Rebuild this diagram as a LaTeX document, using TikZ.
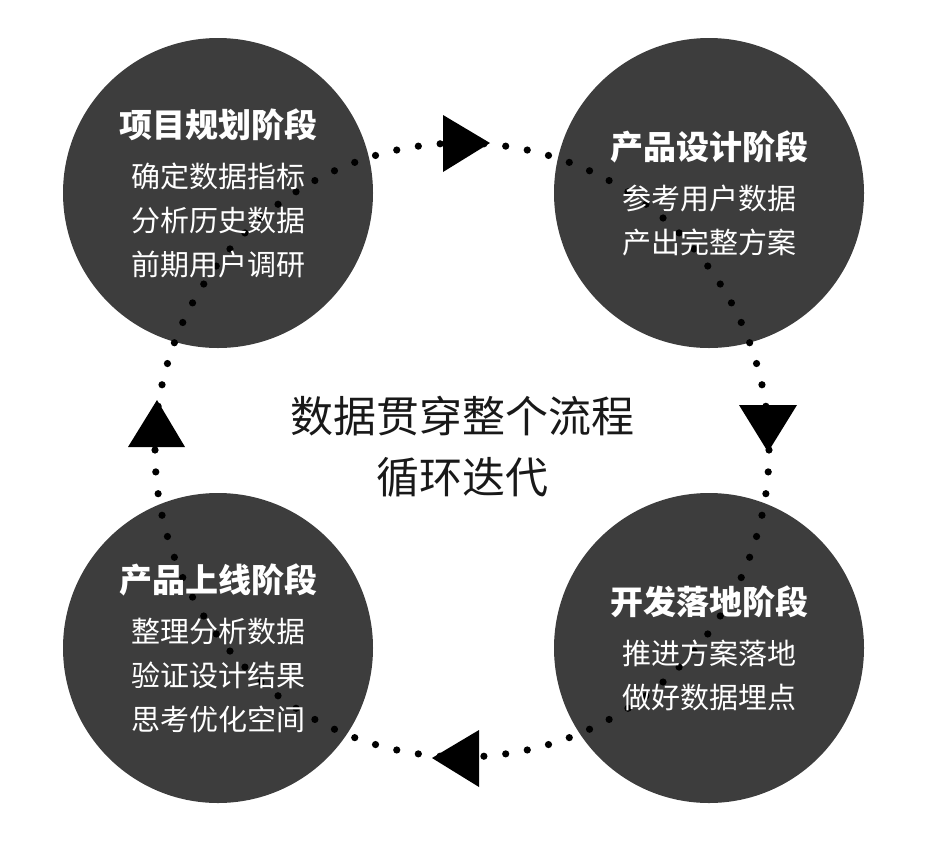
\documentclass[tikz,border=0pt]{standalone}
\usepackage{fontspec}
\setmainfont{Noto Sans CJK SC}
\usepackage{xcolor}
\usetikzlibrary{backgrounds}
\pgfdeclarelayer{ring}
\pgfsetlayers{background,ring,main}
\definecolor{darkdisc}{HTML}{3D3D3D}
\newcommand{\stagetitle}[1]{{\fontsize{33}{44}\selectfont\bfseries #1}}

\begin{document}
\begin{tikzpicture}[
    x=1pt, y=-1pt,
    stage/.style={
      circle, minimum size=310pt, inner sep=0pt,
      text=white, align=center, font=\fontsize{29}{44}\selectfont
    },
    stagefill/.style={fill=darkdisc},
    ringdot/.style={fill=black},
    ringtip/.style={fill=black},
    motto/.style={
      align=center, text=black!90, font=\fontsize{43}{61}\selectfont
    }
  ]
  \useasboundingbox (0,0) rectangle (934,844);

  % --- the four stages ---
  \node[stage] (plan) at (218,193)
    {\stagetitle{项目规划阶段}\\[6pt]确定数据指标\\分析历史数据\\前期用户调研};
  \node[stage] (design) at (709,193)
    {\stagetitle{产品设计阶段}\\[6pt]参考用户数据\\产出完整方案};
  \node[stage] (build) at (709,648)
    {\stagetitle{开发落地阶段}\\[6pt]推进方案落地\\做好数据埋点};
  \node[stage] (launch) at (218,648)
    {\stagetitle{产品上线阶段}\\[6pt]整理分析数据\\验证设计结果\\思考优化空间};

  \begin{scope}[on background layer]
    \foreach \s in {plan,design,build,launch}
      \fill[stagefill] (\s) circle (155);
  \end{scope}

  % --- centre text and dotted ring ---
  \node[motto] (motto) at (462,447) {数据贯穿整个流程\\循环迭代};
  \coordinate (hub) at (462,450);

  \begin{pgfonlayer}{ring}
    \foreach \k in {0,...,87}
      \fill[ringdot] ([shift={(90+\k*4.0909:307)}]hub) circle (3.6);
    % arrow tips on the ring
    \fill[ringtip] (443,115) -- (490,143) -- (443,172) -- cycle;
    \fill[ringtip] (739,405) -- (797,405) -- (768,452) -- cycle;
    \fill[ringtip] (479,730) -- (479,787) -- (432,758) -- cycle;
    \fill[ringtip] (128,447) -- (185,447) -- (157,400) -- cycle;
  \end{pgfonlayer}
\end{tikzpicture}
\end{document}
